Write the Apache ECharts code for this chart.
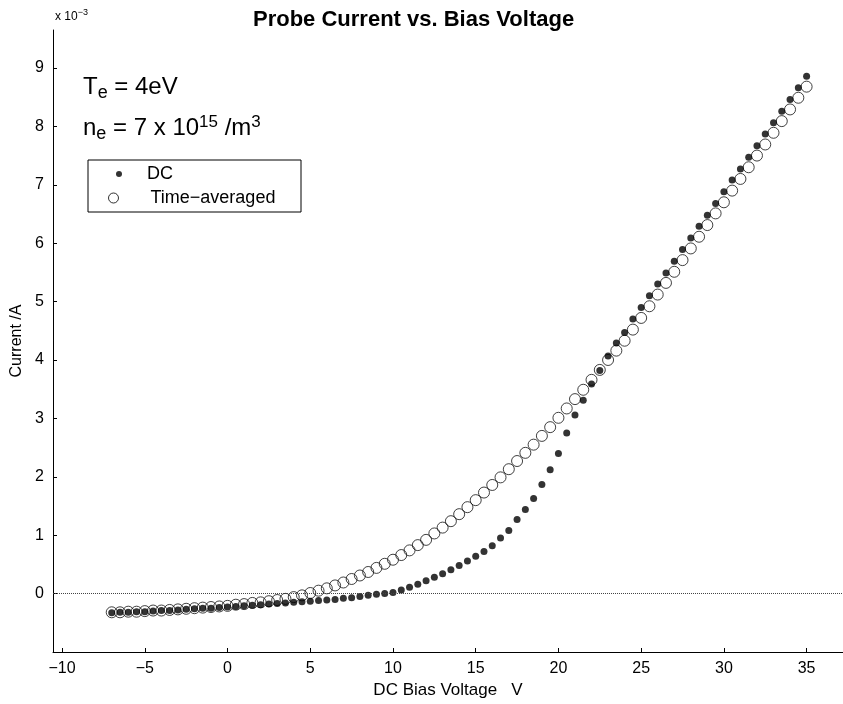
<!DOCTYPE html>
<html><head><meta charset="utf-8">
<script src="https://cdn.jsdelivr.net/npm/echarts@6/dist/echarts.min.js"></script>
<style>html,body{margin:0;padding:0;background:#fff}#c{width:843px;height:704px}</style>
</head><body><div id="c"></div>
<script>
// DC bias voltage (V)
const voltage = [-7,-6.5,-6,-5.5,-5,-4.5,-4,-3.5,-3,-2.5,-2,-1.5,-1,-0.5,
  0,0.5,1,1.5,2,2.5,3,3.5,4,4.5,5,5.5,6,6.5,7,7.5,8,8.5,9,9.5,
  10,10.5,11,11.5,12,12.5,13,13.5,14,14.5,15,15.5,16,16.5,17,17.5,18,18.5,19,19.5,
  20,20.5,21,21.5,22,22.5,23,23.5,24,24.5,25,25.5,26,26.5,27,27.5,28,28.5,29,29.5,
  30,30.5,31,31.5,32,32.5,33,33.5,34,34.5,35];
// Probe current (x 10^-3 A), DC
const dcCurrent = [-0.33,-0.32,-0.32,-0.31,-0.31,-0.30,-0.29,-0.29,-0.28,-0.27,-0.26,-0.25,-0.25,-0.24,
  -0.23,-0.22,-0.21,-0.20,-0.19,-0.18,-0.17,-0.16,-0.15,-0.14,-0.13,-0.12,-0.11,-0.10,-0.08,-0.07,-0.05,-0.03,-0.01,0.00,
  0.02,0.06,0.11,0.16,0.22,0.28,0.34,0.41,0.48,0.56,0.64,0.72,0.82,0.95,1.08,1.27,1.44,1.63,1.87,2.12,
  2.40,2.75,3.06,3.31,3.59,3.82,4.07,4.29,4.47,4.70,4.90,5.10,5.30,5.49,5.69,5.89,6.09,6.29,6.48,6.68,
  6.88,7.08,7.27,7.47,7.67,7.87,8.06,8.26,8.46,8.66,8.86];
// Probe current (x 10^-3 A), time-averaged
const taCurrent = [-0.32,-0.32,-0.31,-0.31,-0.30,-0.29,-0.29,-0.28,-0.27,-0.26,-0.25,-0.24,-0.23,-0.22,
  -0.21,-0.19,-0.18,-0.16,-0.15,-0.13,-0.11,-0.09,-0.06,-0.03,0.01,0.05,0.09,0.14,0.19,0.25,0.31,0.37,0.44,0.51,
  0.58,0.66,0.74,0.83,0.92,1.03,1.13,1.24,1.36,1.48,1.60,1.73,1.86,1.99,2.13,2.27,2.41,2.55,2.70,2.85,
  3.01,3.17,3.33,3.49,3.66,3.83,4.00,4.16,4.33,4.52,4.72,4.92,5.12,5.32,5.51,5.71,5.91,6.11,6.31,6.51,
  6.70,6.90,7.10,7.30,7.50,7.69,7.89,8.09,8.29,8.49,8.68];
const xTicks = [-10,-5,0,5,10,15,20,25,30,35];
const yTicks = [0,1,2,3,4,5,6,7,8,9];

const FONT = "'Liberation Sans', Arial, Helvetica, sans-serif";
const pairs = (xs, ys) => xs.map((x, i) => [x, ys[i]]);

const chart = echarts.init(document.getElementById('c'), null, {renderer: 'canvas'});
chart.setOption({
  animation: false,
  backgroundColor: '#fff',
  textStyle: {fontFamily: FONT},
  title: {
    text: 'Probe Current vs. Bias Voltage',
    left: 253, top: 9, padding: 0,
    textStyle: {fontFamily: FONT, fontSize: 22, fontWeight: 'bold', color: '#000'}
  },
  grid: {left: 53, right: 0, top: 30, bottom: 52, containLabel: false},
  xAxis: {
    type: 'value', min: -10.55, max: 37.2,
    name: 'DC Bias Voltage   V', nameLocation: 'middle', nameGap: 23,
    nameTextStyle: {fontFamily: FONT, fontSize: 17, color: '#000'},
    axisLine: {show: true, onZero: false, lineStyle: {color: '#000', width: 1}},
    axisTick: {show: true, inside: true, length: 4, customValues: xTicks, lineStyle: {color: '#000'}},
    axisLabel: {customValues: xTicks, margin: 9, fontSize: 16, color: '#000', fontFamily: FONT,
      formatter: v => String(v).replace('-', '\u2212')},
    splitLine: {show: false}
  },
  yAxis: {
    type: 'value', min: -1, max: 9.65,
    name: 'Current /A', nameLocation: 'middle', nameGap: 25,
    nameTextStyle: {fontFamily: FONT, fontSize: 16, color: '#000'},
    axisLine: {show: true, onZero: false, lineStyle: {color: '#000', width: 1}},
    axisTick: {show: true, inside: true, length: 4, customValues: yTicks, lineStyle: {color: '#000'}},
    axisLabel: {customValues: yTicks, margin: 9, fontSize: 16, color: '#000', fontFamily: FONT},
    splitLine: {show: false}
  },
  legend: [
    {data: ['DC'], left: 116, top: 165, padding: 0, itemWidth: 6, itemHeight: 6, itemGap: 0,
     selectedMode: false, icon: 'circle',
     textStyle: {fontFamily: FONT, fontSize: 18, color: '#000', padding: [0, 0, 0, 20]}, z: 6},
    {data: ['Time\u2212averaged'], left: 108, top: 189, padding: 0, itemWidth: 10, itemHeight: 10, itemGap: 0,
     selectedMode: false, icon: 'circle',
     itemStyle: {borderWidth: 1, borderColor: '#000', color: 'rgba(0,0,0,0)'},
     textStyle: {fontFamily: FONT, fontSize: 18, color: '#000', padding: [0, 0, 0, 27]}, z: 6}
  ],
  graphic: [
    {type: 'rect', z: 5, shape: {x: 88, y: 160, width: 213, height: 52},
     style: {fill: '#fff', stroke: '#000', lineWidth: 1}},
    {type: 'text', x: 55, y: 8, z: 5, style: {
      text: '{a|x 10}{s|\u22123}', fontFamily: FONT,
      rich: {a: {fontSize: 12, fontFamily: FONT, fill: '#000'},
             s: {fontSize: 9, fontFamily: FONT, fill: '#000', padding: [0, 0, 8, 0]}}}},
    {type: 'text', x: 83, y: 72, z: 5, style: {
      text: '{a|T}{s|e}{a| = 4eV}', fontFamily: FONT,
      rich: {a: {fontSize: 24, fontFamily: FONT, fill: '#000'},
             s: {fontSize: 18, fontFamily: FONT, fill: '#000', padding: [12, 0, 0, 0]}}}},
    {type: 'text', x: 83, y: 113, z: 5, style: {
      text: '{a|n}{s|e}{a| = 7 x 10}{p|15}{a| /m}{p|3}', fontFamily: FONT,
      rich: {a: {fontSize: 24, fontFamily: FONT, fill: '#000'},
             s: {fontSize: 18, fontFamily: FONT, fill: '#000', padding: [12, 0, 0, 0]},
             p: {fontSize: 17, fontFamily: FONT, fill: '#000', padding: [0, 0, 12, 0]}}}}
  ],
  series: [
    {
      name: 'Time\u2212averaged', type: 'scatter', symbol: 'circle', symbolSize: 11,
      data: pairs(voltage, taCurrent),
      itemStyle: {color: 'rgba(0,0,0,0)', borderColor: '#111', borderWidth: 1},
      z: 3,
      markLine: {
        silent: true, symbol: ['none', 'none'], label: {show: false},
        lineStyle: {type: 'dotted', color: '#444', width: 1},
        data: [{yAxis: 0}]
      }
    },
    {
      name: 'DC', type: 'scatter', symbol: 'circle', symbolSize: 7,
      data: pairs(voltage, dcCurrent),
      itemStyle: {color: '#000'},
      z: 4
    }
  ]
});
</script></body></html>
